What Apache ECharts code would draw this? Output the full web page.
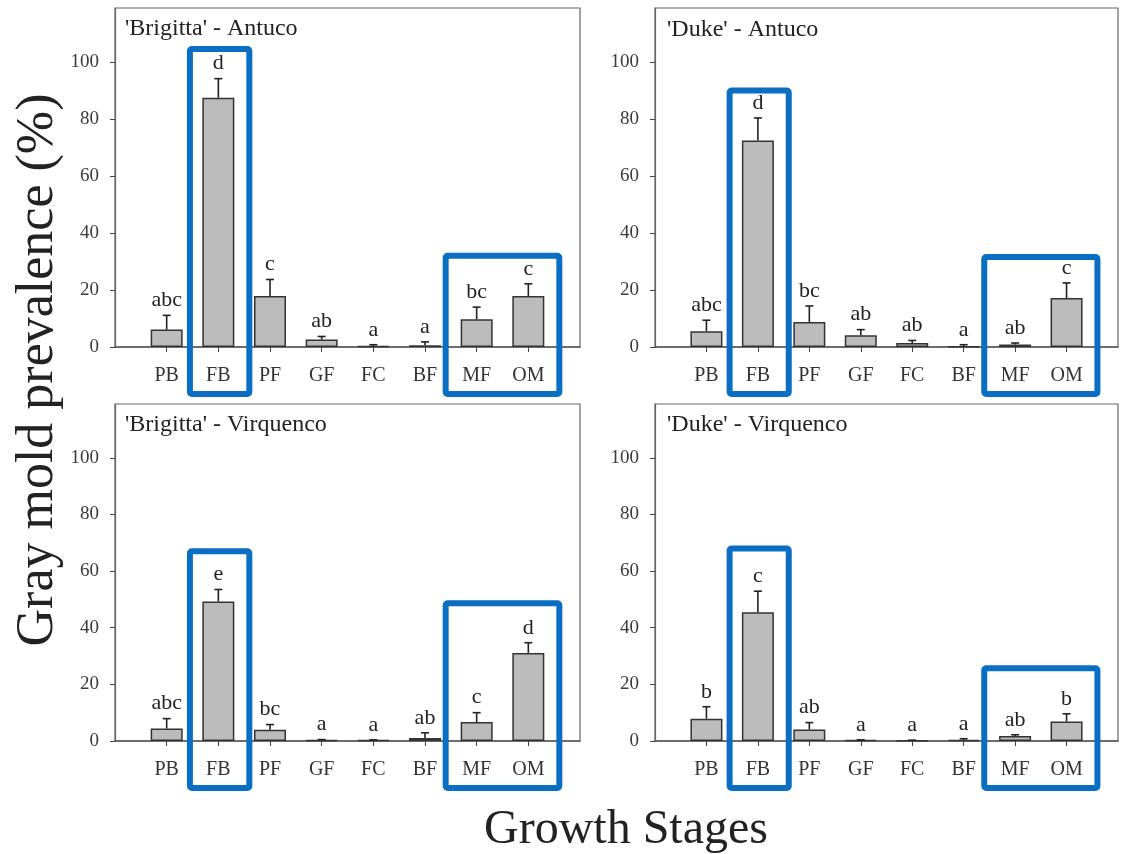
<!DOCTYPE html>
<html>
<head>
<meta charset="utf-8">
<script src="https://cdn.jsdelivr.net/npm/echarts@6/dist/echarts.min.js"></script>
<style>
  html, body { margin: 0; padding: 0; background: #fff; }
  #chart { width: 1134px; height: 854px; }
</style>
</head>
<body>
<div id="chart"></div>
<script>
// Growth stages on the x axis
const stages = ['PB', 'FB', 'PF', 'GF', 'FC', 'BF', 'MF', 'OM'];
const yTicks = [0, 20, 40, 60, 80, 100];

const panelTitles = ["'Brigitta' - Antuco", "'Duke' - Antuco", "'Brigitta' - Virquenco", "'Duke' - Virquenco"];

// Mean gray mold prevalence (%) per stage
const brigittaAntucoMean = [6.1, 87.5, 17.9, 2.6, 0.3, 0.6, 9.7, 17.9];
const dukeAntucoMean = [5.5, 72.5, 8.8, 4.1, 1.4, 0.2, 0.9, 17.2];
const brigittaVirquencoMean = [4.4, 49.3, 4.0, 0.3, 0.3, 1.1, 6.7, 31.1];
const dukeVirquencoMean = [7.9, 45.5, 4.1, 0.3, 0.2, 0.4, 1.8, 6.9];

// Standard error per stage
const brigittaAntucoSE = [5.0, 6.7, 5.8, 1.1, 0.5, 1.2, 4.3, 4.3];
const dukeAntucoSE = [3.9, 7.9, 5.6, 2.0, 0.9, 0.6, 0.5, 5.3];
const brigittaVirquencoSE = [3.5, 4.2, 1.8, 0.2, 0.1, 1.8, 3.3, 3.6];
const dukeVirquencoSE = [4.2, 7.4, 2.4, 0.1, 0.1, 0.4, 0.4, 2.7];

// Significance letters per stage
const brigittaAntucoLetters = ['abc', 'd', 'c', 'ab', 'a', 'a', 'bc', 'c'];
const dukeAntucoLetters = ['abc', 'd', 'bc', 'ab', 'ab', 'a', 'ab', 'c'];
const brigittaVirquencoLetters = ['abc', 'e', 'bc', 'a', 'a', 'ab', 'c', 'd'];
const dukeVirquencoLetters = ['b', 'c', 'ab', 'a', 'a', 'a', 'ab', 'b'];

const means = [brigittaAntucoMean, dukeAntucoMean, brigittaVirquencoMean, dukeVirquencoMean];
const errors = [brigittaAntucoSE, dukeAntucoSE, brigittaVirquencoSE, dukeVirquencoSE];
const letters = [brigittaAntucoLetters, dukeAntucoLetters, brigittaVirquencoLetters, dukeVirquencoLetters];

// Highlighted stage groups per panel: [first stage, last stage, top of box in % units]
const highlights = [
  [['FB', 'FB', 104.6], ['MF', 'OM', 32]],
  [['FB', 'FB', 90], ['MF', 'OM', 31.6]],
  [['FB', 'FB', 67], ['MF', 'OM', 48.6]],
  [['FB', 'FB', 68], ['MF', 'OM', 25.7]]
];

// Layout
const grids = [
  { left: 115, top: 8, width: 465, height: 339 },
  { left: 655, top: 8, width: 463, height: 339 },
  { left: 115, top: 404, width: 465, height: 337 },
  { left: 655, top: 404, width: 463, height: 337 }
];
const titlePos = [[125, 17], [667, 18], [125, 413], [667, 413]];

const SERIF = '"Liberation Serif", "Times New Roman", serif';
// one empty slot at each end of the category axis
const axisCats = [' ', ...stages, '  '];

const chart = echarts.init(document.getElementById('chart'));

const option = {
  backgroundColor: '#fff',
  animation: false,
  title: panelTitles.map((t, i) => ({
    text: t,
    left: titlePos[i][0],
    top: titlePos[i][1],
    padding: 0,
    textStyle: { fontFamily: SERIF, fontSize: 24, fontWeight: 'normal', color: '#222' }
  })),
  grid: grids.map(g => ({
    left: g.left, top: g.top, width: g.width, height: g.height,
    show: true, borderColor: '#666', borderWidth: 1.2, containLabel: false
  })),
  xAxis: grids.map((g, i) => ({
    type: 'category',
    gridIndex: i,
    data: axisCats,
    boundaryGap: false,
    axisLine: { lineStyle: { color: '#555', width: 1.5 } },
    axisTick: {
      length: 5,
      lineStyle: { color: '#444' },
      interval: (idx, val) => stages.indexOf(val) >= 0
    },
    axisLabel: {
      interval: 0, margin: 19, fontFamily: SERIF, fontSize: 20, color: '#333'
    },
    splitLine: { show: false }
  })),
  yAxis: grids.map((g, i) => ({
    type: 'value',
    gridIndex: i,
    min: 0,
    max: 119,
    axisLine: { show: true, lineStyle: { color: '#666', width: 1.2 } },
    axisTick: { show: true, length: 5, customValues: yTicks, lineStyle: { color: '#444' } },
    axisLabel: { customValues: yTicks, margin: 16, fontFamily: SERIF, fontSize: 19, color: '#3a3a3a' },
    splitLine: { show: false }
  })),
  series: []
};

means.forEach((m, i) => {
  option.series.push({
    type: 'bar',
    xAxisIndex: i,
    yAxisIndex: i,
    barWidth: 32,
    data: stages.map((s, j) => [s, m[j]]),
    itemStyle: { color: '#bcbcbc', borderColor: '#333', borderWidth: 1.5 },
    z: 2
  });
  const lt = letters[i];
  option.series.push({
    type: 'custom',
    xAxisIndex: i,
    yAxisIndex: i,
    z: 3,
    data: stages.map((s, j) => [s, m[j], m[j] + errors[i][j]]),
    encode: { x: 0, y: 2 },
    renderItem: (params, api) => {
      const x = api.value(0);
      const base = api.coord([x, api.value(1)]);
      const top = api.coord([x, api.value(2)]);
      const stroke = { stroke: '#222', lineWidth: 1.6 };
      return {
        type: 'group',
        children: [
          { type: 'line', shape: { x1: base[0], y1: base[1], x2: top[0], y2: top[1] }, style: stroke },
          { type: 'line', shape: { x1: top[0] - 4, y1: top[1], x2: top[0] + 4, y2: top[1] }, style: stroke },
          {
            type: 'text',
            x: top[0],
            y: top[1] - 4,
            style: {
              text: lt[params.dataIndex],
              fontFamily: SERIF, fontSize: 22, fill: '#222',
              align: 'center', verticalAlign: 'bottom'
            }
          }
        ]
      };
    }
  });
});

chart.setOption(option);

// Blue outlines around highlighted stage groups, positioned from the axes
const graphics = [];
highlights.forEach((boxes, i) => {
  const p0 = chart.convertToPixel({ gridIndex: i }, [stages[0], 0]);
  const p1 = chart.convertToPixel({ gridIndex: i }, [stages[1], 0]);
  const band = p1[0] - p0[0];
  boxes.forEach(([from, to, topVal]) => {
    const a = chart.convertToPixel({ gridIndex: i }, [from, topVal]);
    const b = chart.convertToPixel({ gridIndex: i }, [to, 0]);
    const x1 = a[0] - band * (from === to ? 0.55 : 0.6);
    const x2 = b[0] + band * 0.6;
    const y1 = a[1];
    const y2 = b[1] + 47;
    graphics.push({
      type: 'rect',
      shape: { x: x1, y: y1, width: x2 - x1, height: y2 - y1, r: 2 },
      style: { fill: 'none', stroke: '#0a6fc2', lineWidth: 6 },
      z: 10
    });
  });
});

graphics.push({
  type: 'text',
  x: 38, y: 370,
  rotation: Math.PI / 2,
  style: {
    text: 'Gray mold prevalence (%)',
    fontFamily: SERIF, fontSize: 52, fill: '#222',
    align: 'center', verticalAlign: 'middle'
  }
});
graphics.push({
  type: 'text',
  x: 626, y: 830,
  style: {
    text: 'Growth Stages',
    fontFamily: SERIF, fontSize: 48, fill: '#222',
    align: 'center', verticalAlign: 'middle'
  }
});

chart.setOption({ graphic: graphics });
</script>
</body>
</html>
